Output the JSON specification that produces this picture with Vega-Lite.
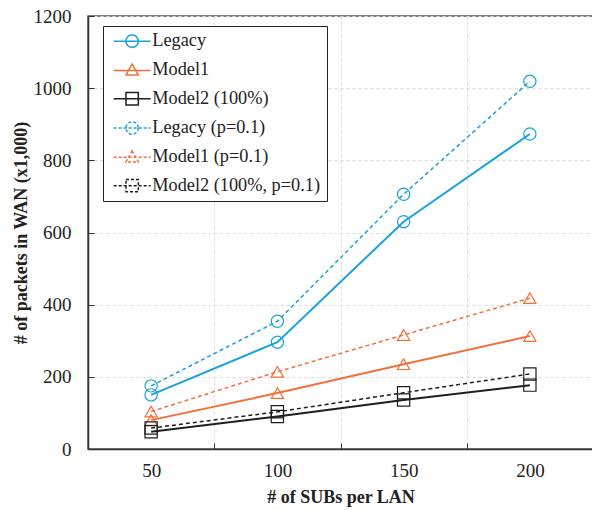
{
  "$schema": "https://vega.github.io/schema/vega-lite/v6.json",
  "width": 505,
  "height": 433,
  "autosize": "none",
  "padding": {"left": 88, "top": 16, "right": 0, "bottom": 61},
  "background": "white",
  "config": {
    "font": "Liberation Serif",
    "view": {"stroke": "#555", "strokeWidth": 1.5}
  },
  "data": {
    "values": [
      {"subs": 50, "series": "Legacy", "packets": 150},
      {"subs": 100, "series": "Legacy", "packets": 296},
      {"subs": 150, "series": "Legacy", "packets": 630},
      {"subs": 200, "series": "Legacy", "packets": 873},
      {"subs": 50, "series": "Model1", "packets": 80},
      {"subs": 100, "series": "Model1", "packets": 155},
      {"subs": 150, "series": "Model1", "packets": 235},
      {"subs": 200, "series": "Model1", "packets": 313},
      {"subs": 50, "series": "Model2 (100%)", "packets": 48},
      {"subs": 100, "series": "Model2 (100%)", "packets": 90},
      {"subs": 150, "series": "Model2 (100%)", "packets": 136},
      {"subs": 200, "series": "Model2 (100%)", "packets": 177},
      {"subs": 50, "series": "Legacy (p=0.1)", "packets": 175},
      {"subs": 100, "series": "Legacy (p=0.1)", "packets": 354},
      {"subs": 150, "series": "Legacy (p=0.1)", "packets": 706},
      {"subs": 200, "series": "Legacy (p=0.1)", "packets": 1019},
      {"subs": 50, "series": "Model1 (p=0.1)", "packets": 104},
      {"subs": 100, "series": "Model1 (p=0.1)", "packets": 214},
      {"subs": 150, "series": "Model1 (p=0.1)", "packets": 316},
      {"subs": 200, "series": "Model1 (p=0.1)", "packets": 418},
      {"subs": 50, "series": "Model2 (100%, p=0.1)", "packets": 58},
      {"subs": 100, "series": "Model2 (100%, p=0.1)", "packets": 103},
      {"subs": 150, "series": "Model2 (100%, p=0.1)", "packets": 156},
      {"subs": 200, "series": "Model2 (100%, p=0.1)", "packets": 208}
    ]
  },
  "encoding": {
    "x": {
      "field": "subs",
      "type": "ordinal",
      "scale": {"type": "band", "paddingInner": 0, "paddingOuter": 0},
      "axis": {
        "title": "# of SUBs per LAN",
        "titleFont": "Liberation Serif",
        "titleFontSize": 18,
        "titleFontWeight": "bold",
        "titleColor": "#222",
        "titlePadding": 8,
        "labelAngle": 0,
        "labelFont": "Liberation Serif",
        "labelFontSize": 19,
        "labelColor": "#222",
        "labelPadding": 18,
        "tickBand": "extent",
        "tickSize": -6,
        "tickColor": "#333",
        "domainColor": "#333",
        "domainWidth": 1.5,
        "grid": true,
        "gridDash": [3, 3],
        "gridColor": "#d9d9d9"
      }
    },
    "y": {
      "field": "packets",
      "type": "quantitative",
      "scale": {"domain": [0, 1200]},
      "axis": {
        "title": "# of packets in WAN (x1,000)",
        "titleFont": "Liberation Serif",
        "titleFontSize": 18,
        "titleFontWeight": "bold",
        "titleColor": "#222",
        "titlePadding": 3,
        "values": [0, 200, 400, 600, 800, 1000, 1200],
        "format": "d",
        "labelFont": "Liberation Serif",
        "labelFontSize": 19,
        "labelColor": "#222",
        "labelPadding": 23,
        "tickSize": -6,
        "tickColor": "#333",
        "domainColor": "#333",
        "domainWidth": 1.5,
        "grid": true,
        "gridDash": [3, 3],
        "gridColor": "#d9d9d9"
      }
    },
    "color": {
      "field": "series",
      "type": "nominal",
      "scale": {
        "domain": ["Legacy", "Model1", "Model2 (100%)", "Legacy (p=0.1)", "Model1 (p=0.1)", "Model2 (100%, p=0.1)"],
        "range": ["#1ba1db", "#f4703a", "#1e1e1e", "#1ba1db", "#f4703a", "#1e1e1e"]
      },
      "legend": {
        "title": null,
        "orient": "none",
        "legendX": 15,
        "legendY": 10,
        "padding": 6,
        "strokeColor": "#222",
        "fillColor": "white",
        "labelFont": "Liberation Serif",
        "labelFontSize": 18.3,
        "labelColor": "#222",
        "labelLimit": 400,
        "labelOffset": 11,
        "symbolSize": 152,
        "symbolOffset": 14,
        "rowPadding": 9.3,
        "encode": {
          "symbols": {
            "update": {
              "shape": {"signal": "indexof(datum.value,'Legacy')>=0 ? 'M-3,0L3,0M1,0A1,1,0,1,1,-1,0A1,1,0,1,1,1,0' : indexof(datum.value,'Model1')>=0 ? 'M-3,0L3,0M0,-1.05L1,0.75L-1,0.75Z' : 'M-3,0L3,0M-1,-1L1,-1L1,1L-1,1Z'"},
              "strokeDash": {"signal": "indexof(datum.value,'p=0.1')>=0 ? [3,2] : [1,0]"},
              "fill": {"value": "transparent"},
              "strokeWidth": {"value": 1.5},
              "opacity": {"value": 1}
            }
          }
        }
      }
    }
  },
  "layer": [
    {
      "transform": [{"filter": "indexof(datum.series,'p=0.1') < 0"}],
      "mark": {"type": "line", "strokeWidth": 2}
    },
    {
      "transform": [{"filter": "indexof(datum.series,'p=0.1') >= 0"}],
      "mark": {"type": "line", "strokeWidth": 1.5, "strokeDash": [4, 3]}
    },
    {
      "transform": [{"filter": "indexof(datum.series,'Legacy') >= 0"}],
      "mark": {"type": "point", "shape": "circle", "filled": false, "size": 150, "strokeWidth": 1.2, "opacity": 1}
    },
    {
      "transform": [{"filter": "indexof(datum.series,'Model1') >= 0"}],
      "mark": {"type": "point", "shape": "triangle-up", "filled": false, "size": 150, "strokeWidth": 1.2, "opacity": 1}
    },
    {
      "transform": [{"filter": "indexof(datum.series,'Model2') >= 0"}],
      "mark": {"type": "point", "shape": "square", "filled": false, "size": 150, "strokeWidth": 1.2, "opacity": 1}
    }
  ]
}
